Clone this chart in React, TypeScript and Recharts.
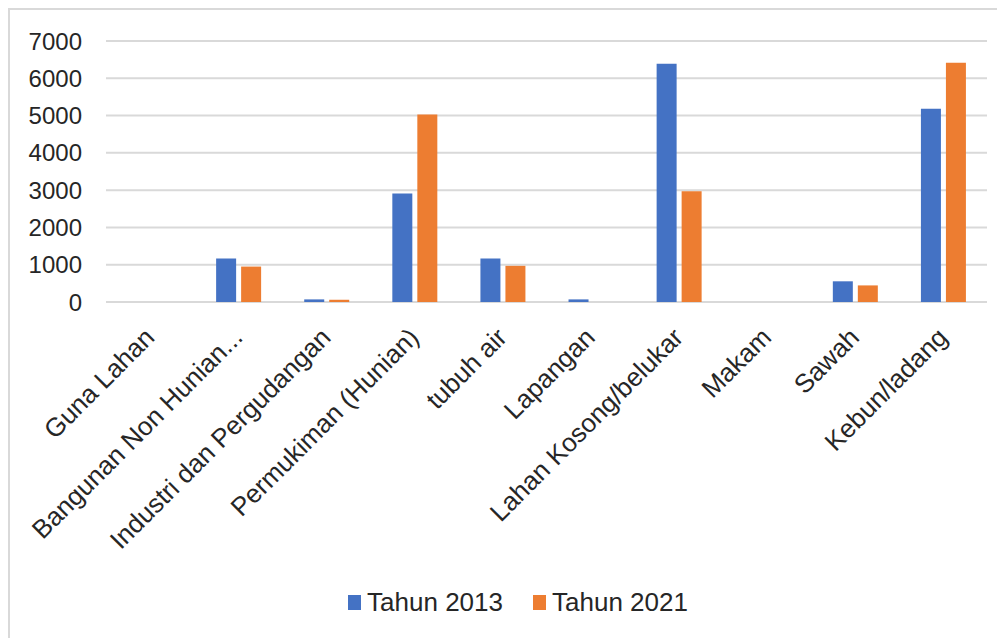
import { BarChart, Bar, XAxis, YAxis, CartesianGrid, Legend } from "recharts";

const categories = [
  "Guna Lahan",
  "Bangunan Non Hunian...",
  "Industri dan Pergudangan",
  "Permukiman (Hunian)",
  "tubuh air",
  "Lapangan",
  "Lahan Kosong/belukar",
  "Makam",
  "Sawah",
  "Kebun/ladang",
];
const tahun2013 = [0, 1170, 70, 2910, 1170, 70, 6390, 0, 555, 5180];
const tahun2021 = [0, 950, 60, 5030, 970, 0, 2970, 0, 445, 6420];
const yTicks = [0, 1000, 2000, 3000, 4000, 5000, 6000, 7000];

const seriesInfo = [
  { key: "t2013", name: "Tahun 2013", color: "#4472C4" },
  { key: "t2021", name: "Tahun 2021", color: "#ED7D31" },
];

const data = categories.map((name, i) => ({
  name,
  t2013: tahun2013[i],
  t2021: tahun2021[i],
}));

const TEXT = "#262626";

function XTick({ x, y, payload }: { x: number; y: number; payload: { value: string } }) {
  const tx = x + 6;
  const ty = y + 37;
  return (
    <text
      x={tx}
      y={ty}
      transform={`rotate(-45, ${tx}, ${ty})`}
      textAnchor="end"
      fontSize={26}
      fill={TEXT}
    >
      {payload.value}
    </text>
  );
}

function LegendBox() {
  return (
    <div
      style={{
        height: 30,
        display: "flex",
        alignItems: "center",
        justifyContent: "center",
        paddingLeft: 39,
        fontSize: 26,
        color: TEXT,
      }}
    >
      {seriesInfo.map((s, i) => (
        <div key={s.key} style={{ display: "flex", alignItems: "center", marginLeft: i ? 30 : 0 }}>
          <span style={{ width: 13, height: 15, background: s.color, marginRight: 6 }} />
          <span>{s.name}</span>
        </div>
      ))}
    </div>
  );
}

export default function App() {
  return (
    <div
      style={{
        width: 995,
        height: 628,
        borderLeft: "2px solid #d9d9d9",
        borderTop: "2px solid #d9d9d9",
        fontFamily: "'Liberation Sans', Arial, sans-serif",
        background: "#fff",
      }}
    >
      <BarChart
        width={995}
        height={628}
        data={data}
        margin={{ top: 31, right: 18, left: 0, bottom: 21 }}
        barCategoryGap="25%"
        barGap={5}
      >
        <CartesianGrid vertical={false} stroke="#d9d9d9" strokeWidth={2} />
        <XAxis
          dataKey="name"
          interval={0}
          height={285}
          axisLine={false}
          tickLine={false}
          tickSize={0}
          tickMargin={0}
          tick={XTick}
        />
        <YAxis
          domain={[0, 7000]}
          ticks={yTicks}
          width={96}
          axisLine={false}
          tickLine={false}
          tickSize={0}
          tickMargin={24}
          tick={{ fontSize: 24, fill: TEXT }}
        />
        <Legend verticalAlign="bottom" content={LegendBox} />
        {seriesInfo.map((s) => (
          <Bar key={s.key} dataKey={s.key} name={s.name} fill={s.color} isAnimationActive={false} />
        ))}
      </BarChart>
    </div>
  );
}
